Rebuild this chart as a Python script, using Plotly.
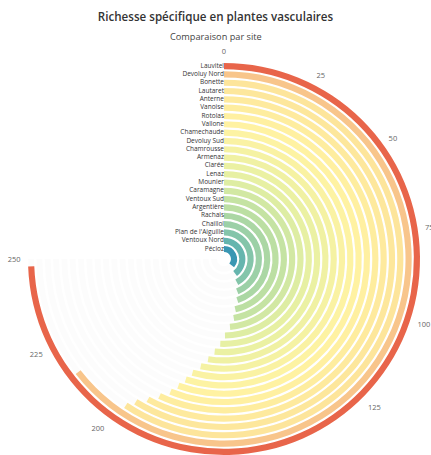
import plotly.graph_objects as go

sites = ["Lauvitel", "Devoluy Nord", "Bonette", "Lautaret", "Anterne", "Vanoise",
         "Rotolas", "Vallone", "Chamechaude", "Devoluy Sud", "Chamrousse", "Armenaz",
         "Clarée", "Lenaz", "Mounier", "Caramagne", "Ventoux Sud", "Argentière",
         "Rachais", "Chaillol", "Plan de l'Aiguille", "Ventoux Nord", "Pécloz"]
richesse = [248, 215, 198, 196, 193, 190, 187, 185, 183, 181, 178, 175,
            172, 169, 166, 162, 158, 155, 150, 146, 140, 132, 120]
tick_values = [0, 25, 50, 75, 100, 125, 150, 175, 200, 225, 250]

AXIS_MAX = 250
SWEEP = 270.0
deg_per_unit = SWEEP / AXIS_MAX

n = len(sites)
slots = [n - 1 - i for i in range(n)]
inner_offset = 1.2
thick = 0.74
bases = [s + inner_offset - thick / 2 for s in slots]
centers = [s + inner_offset for s in slots]

colorscale = [
    [0.0, "#3a97b3"],
    [0.12, "#72bdad"],
    [0.25, "#b3dba3"],
    [0.38, "#e6f0a3"],
    [0.5, "#fff3a3"],
    [0.62, "#fde49a"],
    [0.74, "#f8c68b"],
    [0.84, "#f2a676"],
    [1.0, "#e8654a"],
]

fig = go.Figure()

fig.add_trace(go.Barpolar(
    r=[thick] * n,
    base=bases,
    theta=[AXIS_MAX * deg_per_unit / 2] * n,
    width=[AXIS_MAX * deg_per_unit] * n,
    marker=dict(color="rgba(0,0,0,0.012)", line=dict(width=0)),
    hoverinfo="skip",
    showlegend=False,
))

fig.add_trace(go.Barpolar(
    r=[thick] * n,
    base=bases,
    theta=[v * deg_per_unit / 2 for v in richesse],
    width=[v * deg_per_unit for v in richesse],
    marker=dict(color=richesse, colorscale=colorscale,
                cmin=min(richesse), cmax=max(richesse),
                line=dict(width=0)),
    customdata=list(zip(sites, richesse)),
    hovertemplate="%{customdata[0]}: %{customdata[1]}<extra></extra>",
    showlegend=False,
))

fig.add_trace(go.Scatterpolar(
    r=centers,
    theta=[0] * n,
    mode="text",
    text=sites,
    textposition="middle left",
    textfont=dict(size=6.5, color="#333", family="Open Sans"),
    hoverinfo="skip",
    showlegend=False,
))

# figure is a little taller than the window; the window shows the top 455 px
W, H = 431, 470
cx, cy = 224, 259
ring_px = 196      # pixel radius of the outer ring edge
rad = 203          # pixel radius of the polar area (tick labels sit outside it)
R_MAX = (n - 1 + inner_offset + thick / 2) * rad / ring_px

fig.update_layout(
    width=W, height=H,
    margin=dict(l=0, r=0, t=0, b=0),
    paper_bgcolor="white",
    font=dict(family="Open Sans", color="#555"),
    title=dict(text="Richesse spécifique en plantes vasculaires",
               x=0.5, xanchor="center", y=1 - 17 / H, yanchor="middle",
               font=dict(size=11.6, color="#333", family="Open Sans", weight=600)),
    annotations=[dict(text="Comparaison par site", x=0.5, y=1 - 37 / H,
                      xref="paper", yref="paper", showarrow=False,
                      xanchor="center", yanchor="middle",
                      font=dict(size=9.2, color="#444"))],
    polar=dict(
        domain=dict(x=[(cx - rad) / W, (cx + rad) / W],
                    y=[(H - cy - rad) / H, (H - cy + rad) / H]),
        bgcolor="white",
        radialaxis=dict(range=[0, R_MAX], showticklabels=False,
                        showline=False, showgrid=False, ticks=""),
        angularaxis=dict(rotation=90, direction="clockwise",
                         tickvals=[t * deg_per_unit for t in tick_values],
                         ticktext=[str(t) for t in tick_values],
                         showline=False, showgrid=True,
                         gridcolor="rgba(255,255,255,0.6)", ticks="",
                         tickfont=dict(size=7.5, color="#666")),
    ),
)

fig.write_html("out.html", config={"displayModeBar": False},
               post_script="document.body.style.margin='0';"
                           "document.body.style.overflow='hidden';")
